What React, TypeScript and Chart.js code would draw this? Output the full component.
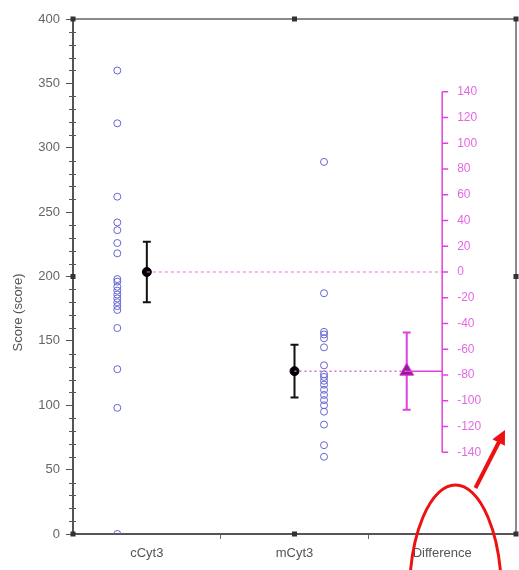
import React, { useEffect, useRef } from "react";
import { Chart, registerables } from "chart.js";

Chart.register(...registerables);

// ---------- data ----------
const categories = ["cCyt3", "mCyt3", "Difference"];
const cCyt3Scores = [360, 319, 262, 242, 236, 226, 218, 198, 196, 192, 189, 186, 183, 180, 177, 174, 160, 128, 98, 0];
const mCyt3Scores = [289, 187, 157, 155, 152, 145, 131, 124, 122, 119, 116, 112, 108, 104, 100, 95, 85, 69, 60];
const groupMeans = [203.5, 126.5];
const groupErrors = [23.5, 20.5];
const diffMean = -77;
const diffError = 30;
const yTickValues = [0, 50, 100, 150, 200, 250, 300, 350, 400];
const diffTickValues = [-140, -120, -100, -80, -60, -40, -20, 0, 20, 40, 60, 80, 100, 120, 140];

// ---------- layout constants ----------
const CAT_CENTERS = [0.5, 1.5, 2.5];
const POINT_OFFSETS = [-0.2, 0.2];
const DIFF_X = 2.26;
const FONT = 'Arial, "Liberation Sans", sans-serif';
const BLUE = "#6464d2";
const MAGENTA = "#e040e0";

export default function App() {
  const ref = useRef<HTMLCanvasElement | null>(null);

  useEffect(() => {
    if (!ref.current) return;

    const cPoints = cCyt3Scores.map((v) => ({ x: CAT_CENTERS[0] + POINT_OFFSETS[0], y: v }));
    const mPoints = mCyt3Scores.map((v) => ({ x: CAT_CENTERS[1] + POINT_OFFSETS[1], y: v }));
    const base = groupMeans[0];

    const decor = {
      id: "decor",
      beforeDatasetsDraw(chart: any) {
        const { ctx, scales } = chart;
        const xs = scales.x, ys = scales.y;
        const bars = [
          { x: CAT_CENTERS[0], m: groupMeans[0], e: groupErrors[0], c: "#111" },
          { x: CAT_CENTERS[1], m: groupMeans[1], e: groupErrors[1], c: "#111" },
          { x: DIFF_X, m: base + diffMean, e: diffError, c: MAGENTA },
        ];
        ctx.save();
        bars.forEach((b) => {
          const px = xs.getPixelForValue(b.x);
          const top = ys.getPixelForValue(b.m + b.e);
          const bot = ys.getPixelForValue(b.m - b.e);
          ctx.strokeStyle = b.c;
          ctx.lineWidth = 2;
          ctx.beginPath();
          ctx.moveTo(px, top); ctx.lineTo(px, bot);
          ctx.moveTo(px - 4, top); ctx.lineTo(px + 4, top);
          ctx.moveTo(px - 4, bot); ctx.lineTo(px + 4, bot);
          ctx.stroke();
        });
        ctx.restore();
      },
      afterDraw(chart: any) {
        const { ctx, scales, chartArea } = chart;
        const xs = scales.x, ys = scales.y;
        const { left, right, top, bottom } = chartArea;
        ctx.save();
        // frame top & right
        ctx.strokeStyle = "#8a8a8a";
        ctx.lineWidth = 2;
        ctx.beginPath();
        ctx.moveTo(left, top); ctx.lineTo(right, top); ctx.lineTo(right, bottom);
        ctx.stroke();
        // minor ticks on left axis
        ctx.strokeStyle = "#555";
        ctx.lineWidth = 1;
        for (let v = 10; v < 400; v += 10) {
          if (v % 50 === 0) continue;
          const py = Math.round(ys.getPixelForValue(v)) + 0.5;
          ctx.beginPath();
          ctx.moveTo(left - 4, py); ctx.lineTo(left + 3, py);
          ctx.stroke();
        }
        // frame markers
        ctx.fillStyle = "#333";
        const mid = xs.getPixelForValue(1.5);
        const y200 = ys.getPixelForValue(200);
        [[left, top], [mid, top], [right, top], [left, y200], [right, y200], [left, bottom], [mid, bottom], [right, bottom]].forEach(([a, b]) => {
          ctx.fillRect(a - 2.5, b - 2.5, 5, 5);
        });
        // difference axis
        const ax = xs.getPixelForValue(CAT_CENTERS[2]);
        const yTop = ys.getPixelForValue(base + diffTickValues[diffTickValues.length - 1]);
        const yBot = ys.getPixelForValue(base + diffTickValues[0]);
        ctx.strokeStyle = MAGENTA;
        ctx.lineWidth = 1.5;
        ctx.beginPath();
        ctx.moveTo(ax, yTop); ctx.lineTo(ax, yBot);
        ctx.stroke();
        ctx.fillStyle = "#e468e4";
        ctx.font = `12px ${FONT}`;
        ctx.textAlign = "left";
        ctx.textBaseline = "middle";
        diffTickValues.forEach((t) => {
          const py = ys.getPixelForValue(base + t);
          ctx.beginPath();
          ctx.moveTo(ax, py); ctx.lineTo(ax + 6, py);
          ctx.stroke();
          ctx.fillText(String(t), ax + 15, py);
        });
        // y title
        ctx.save();
        ctx.translate(18, (top + bottom) / 2 + 36);
        ctx.rotate(-Math.PI / 2);
        ctx.fillStyle = "#555";
        ctx.font = `13px ${FONT}`;
        ctx.textAlign = "center";
        ctx.textBaseline = "middle";
        ctx.fillText("Score (score)", 0, 0);
        ctx.restore();
        // red annotation
        const ex = xs.getPixelForValue(2.59);
        ctx.strokeStyle = "#ee1111";
        ctx.lineWidth = 3;
        ctx.beginPath();
        ctx.ellipse(ex, bottom + 61, 46, 110, 0, 0, Math.PI * 2);
        ctx.stroke();
        const ax1 = ex + 20, ay1 = bottom - 46;
        const ax2 = right - 11, ay2 = bottom - 104;
        ctx.lineWidth = 4;
        ctx.beginPath();
        ctx.moveTo(ax1, ay1); ctx.lineTo(ax2 - 4, ay2 + 8);
        ctx.stroke();
        const ang = Math.atan2(ay2 - ay1, ax2 - ax1);
        ctx.fillStyle = "#ee1111";
        ctx.beginPath();
        ctx.moveTo(ax2, ay2);
        ctx.lineTo(ax2 - 14 * Math.cos(ang) + 7 * Math.sin(ang), ay2 - 14 * Math.sin(ang) - 7 * Math.cos(ang));
        ctx.lineTo(ax2 - 14 * Math.cos(ang) - 7 * Math.sin(ang), ay2 - 14 * Math.sin(ang) + 7 * Math.cos(ang));
        ctx.closePath();
        ctx.fill();
        ctx.restore();
      },
    };

    const chart = new Chart(ref.current, {
      type: "scatter",
      data: {
        datasets: [
          {
            type: "line",
            data: [{ x: CAT_CENTERS[0], y: base }, { x: CAT_CENTERS[2], y: base }],
            borderColor: "#e070e0",
            borderWidth: 1,
            borderDash: [3, 3],
            pointRadius: 0,
          },
          {
            type: "line",
            data: [{ x: CAT_CENTERS[1], y: base + diffMean }, { x: DIFF_X, y: base + diffMean }],
            borderColor: "#d070d0",
            borderWidth: 1.5,
            borderDash: [2, 3],
            pointRadius: 0,
          },
          {
            type: "line",
            data: [{ x: DIFF_X, y: base + diffMean }, { x: CAT_CENTERS[2], y: base + diffMean }],
            borderColor: MAGENTA,
            borderWidth: 1.5,
            pointRadius: 0,
          },
          {
            data: cPoints,
            pointStyle: "circle",
            pointRadius: 3.5,
            borderColor: BLUE,
            backgroundColor: "rgba(0,0,0,0)",
            borderWidth: 1,
          },
          {
            data: mPoints,
            pointStyle: "circle",
            pointRadius: 3.5,
            borderColor: BLUE,
            backgroundColor: "rgba(0,0,0,0)",
            borderWidth: 1,
          },
          {
            data: [{ x: CAT_CENTERS[0], y: groupMeans[0] }, { x: CAT_CENTERS[1], y: groupMeans[1] }],
            pointStyle: "circle",
            pointRadius: 4.5,
            borderColor: "#000",
            backgroundColor: "#000",
          },
          {
            data: [{ x: DIFF_X, y: base + diffMean }],
            pointStyle: "triangle",
            pointRadius: 8,
            borderColor: "#d030d0",
            backgroundColor: "#9a1a9a",
            borderWidth: 1,
          },
        ],
      },
      options: {
        animation: false,
        responsive: true,
        maintainAspectRatio: false,
        layout: { autoPadding: false, padding: { top: 19, right: 3, left: 0, bottom: 0 } },
        plugins: { legend: { display: false }, tooltip: { enabled: false } },
        scales: {
          x: {
            type: "linear",
            min: 0,
            max: 3,
            afterBuildTicks: (s: any) => {
              s.ticks = [0, 0.5, 1, 1.5, 2, 2.5, 3].map((v) => ({ value: v }));
            },
            afterFit: (s: any) => {
              s.height = 36;
              s.paddingLeft = 0;
              s.paddingRight = 0;
            },
            border: { color: "#555", width: 2 },
            grid: {
              drawOnChartArea: false,
              tickLength: 5,
              tickColor: (c: any) => (c.tick && (c.tick.value === 1 || c.tick.value === 2) ? "#666" : "rgba(0,0,0,0)"),
            },
            ticks: {
              autoSkip: false,
              maxRotation: 0,
              padding: 7,
              color: "#555",
              font: { family: FONT, size: 13 },
              callback: (v: any) => {
                const i = CAT_CENTERS.indexOf(Number(v));
                return i >= 0 ? categories[i] : "";
              },
            },
          },
          y: {
            min: 0,
            max: 400,
            afterBuildTicks: (s: any) => {
              s.ticks = yTickValues.map((v) => ({ value: v }));
            },
            afterFit: (s: any) => {
              s.width = 73;
              s.paddingTop = 0;
              s.paddingBottom = 0;
            },
            border: { color: "#555", width: 2 },
            grid: { drawOnChartArea: false, tickLength: 7, tickColor: "#555" },
            ticks: {
              padding: 6,
              color: "#666",
              font: { family: FONT, size: 13 },
            },
          },
        },
      },
      plugins: [decor],
    } as any);

    return () => chart.destroy();
  }, []);

  return (
    <div style={{ position: "fixed", left: 0, top: 0, width: 519, height: 570, background: "#fff" }}>
      <canvas ref={ref} />
    </div>
  );
}
